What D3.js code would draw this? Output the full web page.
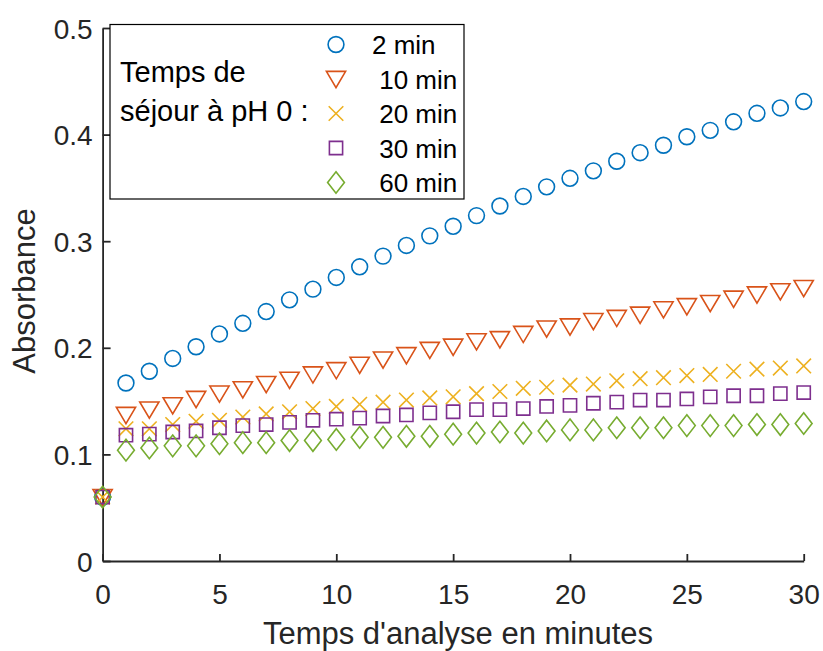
<!DOCTYPE html>
<html>
<head>
<meta charset="utf-8">
<script src="https://cdn.jsdelivr.net/npm/d3@7"></script>
<style>
  html, body { margin: 0; padding: 0; background: #fff; }
  svg { display: block; font-family: "Liberation Sans", Arial, Helvetica, sans-serif; }
</style>
</head>
<body>
<svg id="chart" width="823" height="651"></svg>
<script>
// ---- data ----
const timeMin = [0,1,2,3,4,5,6,7,8,9,10,11,12,13,14,15,16,17,18,19,20,21,22,23,24,25,26,27,28,29,30];
const s2min  = [0.060,0.167,0.178,0.190,0.201,0.213,0.223,0.234,0.245,0.255,0.266,0.276,0.286,0.296,0.305,0.314,0.324,0.333,0.342,0.351,0.359,0.366,0.375,0.383,0.390,0.398,0.404,0.412,0.420,0.425,0.431];
const s10min = [0.060,0.137,0.142,0.146,0.152,0.157,0.161,0.166,0.170,0.175,0.179,0.184,0.189,0.193,0.198,0.201,0.206,0.208,0.213,0.218,0.220,0.225,0.228,0.231,0.236,0.239,0.242,0.246,0.250,0.253,0.256];
const s20min = [0.060,0.124,0.124,0.128,0.131,0.132,0.135,0.138,0.140,0.143,0.145,0.147,0.149,0.151,0.153,0.154,0.157,0.159,0.162,0.163,0.165,0.166,0.169,0.171,0.172,0.174,0.175,0.178,0.180,0.181,0.183];
const s30min = [0.060,0.118,0.119,0.121,0.122,0.125,0.127,0.128,0.130,0.132,0.133,0.134,0.136,0.137,0.139,0.140,0.142,0.142,0.143,0.145,0.146,0.148,0.149,0.151,0.151,0.152,0.154,0.155,0.155,0.157,0.158];
const s60min = [0.060,0.104,0.106,0.108,0.108,0.110,0.111,0.111,0.113,0.113,0.114,0.116,0.116,0.117,0.117,0.119,0.120,0.121,0.120,0.122,0.123,0.123,0.125,0.125,0.125,0.127,0.127,0.127,0.128,0.128,0.129];
const seriesLabels = ["2 min", " 10 min", " 20 min", " 30 min", " 60 min"];
const seriesColors = ["#0072BD", "#D95319", "#EDB120", "#7E2F8E", "#77AC30"];
const seriesShapes = ["circle", "triangleDown", "cross", "square", "diamond"];
const xTicks = [0,5,10,15,20,25,30];
const yTicks = [0,0.1,0.2,0.3,0.4,0.5];
const xLabel = "Temps d'analyse en minutes";
const yLabel = "Absorbance";
const legendTitle = ["Temps de", "séjour à pH 0 :"];

const allSeries = [s2min, s10min, s20min, s30min, s60min];

// ---- layout ----
const svg = d3.select("#chart");
const x = d3.scaleLinear().domain([0, 30]).range([102.6, 803.7]);
const y = d3.scaleLinear().domain([0, 0.5]).range([561, 28]);
const axisColor = "#262626";

function markerPath(shape) {
  switch (shape) {
    case "circle": return "M7.9,0A7.9,7.9 0 1,1 -7.9,0A7.9,7.9 0 1,1 7.9,0Z";
    case "triangleDown": return "M-9.6,-7.6L9.6,-7.6L0,8.6Z";
    case "cross": return "M-7.3,-7.3L7.3,7.3M-7.3,7.3L7.3,-7.3";
    case "square": return "M-6.6,-6.6L6.6,-6.6L6.6,6.6L-6.6,6.6Z";
    case "diamond": return "M0,-10.8L8.4,0L0,10.8L-8.4,0Z";
  }
}

// ---- axes ----
const xAxis = d3.axisBottom(x).tickValues(xTicks).tickFormat(d3.format("d"))
  .tickSizeInner(-7).tickSizeOuter(0).tickPadding(14);
const yAxis = d3.axisLeft(y).tickValues(yTicks).tickFormat(d => d === 0 ? "0" : d3.format(".1f")(d))
  .tickSizeInner(-8).tickSizeOuter(0).tickPadding(10);

const gx = svg.append("g").attr("transform", "translate(0,561)").call(xAxis);
const gy = svg.append("g").attr("transform", "translate(102.6,0)").call(yAxis);
[gx, gy].forEach(g => {
  g.select(".domain").attr("stroke", axisColor).attr("stroke-width", 1.8);
  g.selectAll(".tick line").attr("stroke", axisColor).attr("stroke-width", 1.8);
  g.selectAll(".tick text").attr("fill", axisColor).attr("font-size", 28)
    .attr("font-family", "Liberation Sans, Arial, sans-serif");
});
gx.selectAll(".tick text").attr("dy", null).attr("y", 43);
gy.selectAll(".tick text").attr("dy", "0.36em");

svg.append("text").attr("x", 458).attr("y", 644).attr("text-anchor", "middle")
  .attr("font-size", 31).attr("fill", axisColor).text(xLabel);
svg.append("text").attr("transform", "translate(35,291) rotate(-90)").attr("text-anchor", "middle")
  .attr("font-size", 31).attr("fill", axisColor).text(yLabel);

// ---- data markers ----
allSeries.forEach((vals, i) => {
  svg.append("g").selectAll("path").data(vals.map((v, j) => [timeMin[j], v])).join("path")
    .attr("transform", d => `translate(${x(d[0])},${y(d[1])})`)
    .attr("d", markerPath(seriesShapes[i]))
    .attr("fill", "none").attr("stroke", seriesColors[i]).attr("stroke-width", 1.6);
});

// ---- legend ----
const lg = svg.append("g");
lg.append("rect").attr("x", 110).attr("y", 24.5).attr("width", 354).attr("height", 174.5)
  .attr("fill", "#fff").attr("stroke", "#000").attr("stroke-width", 1.2);
legendTitle.forEach((t, i) => {
  lg.append("text").attr("x", 120).attr("y", 82 + i * 39).attr("font-size", 29)
    .attr("fill", "#000").text(t);
});
seriesLabels.forEach((lab, i) => {
  const cy = 44.5 + i * 34.5;
  lg.append("path").attr("transform", `translate(336,${cy})`).attr("d", markerPath(seriesShapes[i]))
    .attr("fill", "none").attr("stroke", seriesColors[i]).attr("stroke-width", 1.6);
  lg.append("text").attr("x", 372).attr("y", cy + 9.5).attr("font-size", 26)
    .attr("fill", "#000").style("white-space", "pre").attr("xml:space", "preserve").text(lab);
});
</script>
</body>
</html>
